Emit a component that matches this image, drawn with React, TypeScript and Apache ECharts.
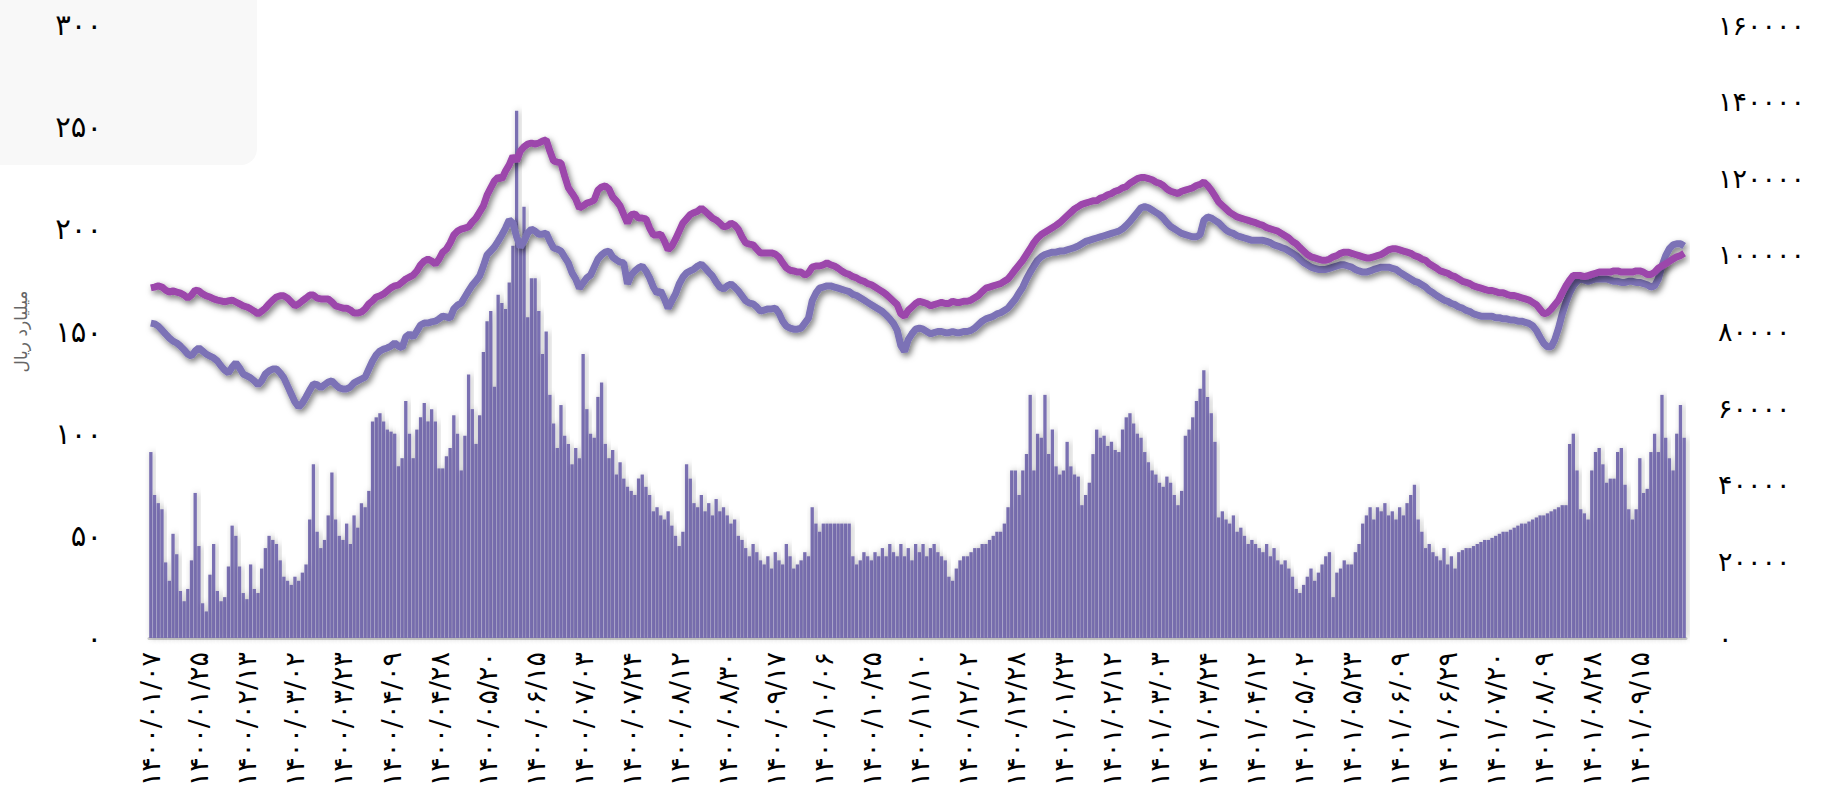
import React, { useEffect, useRef } from 'react';
import * as echarts from 'echarts';

const tickDates = [
  '۱۴۰۰/۰۱/۰۷', '۱۴۰۰/۰۱/۲۵', '۱۴۰۰/۰۲/۱۳', '۱۴۰۰/۰۳/۰۲', '۱۴۰۰/۰۳/۲۳', '۱۴۰۰/۰۴/۰۹', '۱۴۰۰/۰۴/۲۸', '۱۴۰۰/۰۵/۲۰',
  '۱۴۰۰/۰۶/۱۵', '۱۴۰۰/۰۷/۰۳', '۱۴۰۰/۰۷/۲۴', '۱۴۰۰/۰۸/۱۲', '۱۴۰۰/۰۸/۳۰', '۱۴۰۰/۰۹/۱۷', '۱۴۰۰/۱۰/۰۶', '۱۴۰۰/۱۰/۲۵',
  '۱۴۰۰/۱۱/۱۰', '۱۴۰۰/۱۲/۰۲', '۱۴۰۰/۱۲/۲۸', '۱۴۰۱/۰۱/۲۳', '۱۴۰۱/۰۲/۱۲', '۱۴۰۱/۰۳/۰۳', '۱۴۰۱/۰۳/۲۴', '۱۴۰۱/۰۴/۱۲',
  '۱۴۰۱/۰۵/۰۲', '۱۴۰۱/۰۵/۲۳', '۱۴۰۱/۰۶/۰۹', '۱۴۰۱/۰۶/۲۹', '۱۴۰۱/۰۷/۲۰', '۱۴۰۱/۰۸/۰۹', '۱۴۰۱/۰۸/۲۸', '۱۴۰۱/۰۹/۱۵'
];
const LABEL_STEP = 13;

const leftTicks = ['۰', '۵۰', '۱۰۰', '۱۵۰', '۲۰۰', '۲۵۰', '۳۰۰'];
const rightTicks = ['۰', '۲۰۰۰۰', '۴۰۰۰۰', '۶۰۰۰۰', '۸۰۰۰۰', '۱۰۰۰۰۰', '۱۲۰۰۰۰', '۱۴۰۰۰۰', '۱۶۰۰۰۰'];

// trading value (billion rials), left axis
const barValues = [
  91, 70, 66, 63, 37, 28, 51, 41, 23, 18, 24, 38, 71,
  45, 17, 13, 31, 46, 23, 18, 20, 35, 55, 50, 35, 22,
  19, 36, 24, 22, 34, 44, 50, 48, 46, 38, 30, 28, 26,
  30, 28, 32, 36, 58, 85, 52, 44, 48, 60, 81, 58, 50,
  48, 56, 46, 60, 54, 66, 64, 72, 106, 108, 110, 106, 102,
  101, 100, 84, 88, 116, 100, 88, 102, 108, 115, 106, 112, 106,
  83, 83, 89, 93, 109, 100, 82, 99, 129, 112, 95, 109, 140,
  155, 160, 123, 168, 164, 161, 174, 192, 258, 191, 211, 157, 176,
  176, 160, 139, 150, 119, 105, 93, 114, 99, 95, 85, 93, 88,
  139, 112, 100, 98, 118, 125, 95, 88, 92, 80, 86, 78, 74,
  72, 70, 78, 80, 74, 70, 62, 64, 60, 58, 62, 55, 50,
  45, 52, 85, 78, 66, 64, 70, 62, 66, 60, 68, 62, 64,
  60, 56, 58, 50, 48, 44, 40, 46, 42, 38, 36, 40, 34,
  42, 38, 36, 46, 40, 34, 36, 38, 42, 40, 64, 56, 52,
  56, 56, 56, 56, 56, 56, 56, 56, 40, 36, 38, 42, 40,
  38, 42, 40, 44, 40, 46, 42, 40, 46, 40, 44, 38, 46,
  42, 46, 40, 44, 46, 42, 40, 38, 30, 28, 34, 38, 40,
  40, 42, 44, 44, 46, 46, 48, 50, 52, 52, 56, 64, 82,
  82, 70, 82, 90, 119, 82, 100, 98, 119, 90, 102, 84, 80,
  82, 96, 84, 80, 79, 65, 70, 76, 90, 102, 98, 99, 94,
  96, 92, 91, 102, 108, 110, 105, 100, 98, 91, 86, 82, 80,
  76, 74, 79, 76, 70, 65, 72, 99, 102, 108, 116, 122, 131,
  118, 110, 96, 59, 62, 58, 56, 60, 52, 54, 50, 46, 48,
  46, 44, 42, 46, 40, 44, 38, 36, 38, 34, 30, 24, 22,
  26, 30, 34, 28, 32, 36, 40, 42, 20, 32, 34, 38, 36,
  36, 42, 46, 56, 60, 64, 58, 64, 62, 66, 60, 62, 58,
  64, 60, 66, 70, 75, 58, 52, 44, 46, 42, 40, 38, 44,
  36, 40, 34, 42, 43, 44, 44, 45, 46, 47, 48, 48, 49,
  50, 51, 52, 52, 53, 54, 55, 56, 56, 57, 58, 59, 60,
  60, 61, 62, 63, 64, 65, 65, 95, 100, 82, 63, 61, 58,
  82, 91, 93, 85, 76, 78, 78, 91, 93, 75, 63, 58, 63,
  88, 71, 73, 91, 100, 91, 119, 98, 88, 82, 100, 114, 98
];

// upper (magenta) line, right axis
const upperLine = [
  91400, 91600, 91900, 91600, 90800, 90300, 90600, 90300, 90000, 89500, 88700, 89500, 90800,
  90600, 89800, 89300, 89000, 88500, 88200, 88000, 87700, 88000, 88200, 87700, 87200, 86700,
  86400, 85900, 85300, 84600, 85300, 86100, 87200, 88200, 89000, 89300, 89300, 88700, 87700,
  86700, 87200, 88000, 88700, 89500, 89500, 88700, 88500, 88500, 88500, 87700, 86700, 86400,
  86100, 86100, 85600, 84800, 84800, 85100, 85900, 87200, 88000, 89000, 89300, 89800, 90600,
  91400, 91900, 92100, 92900, 93700, 94200, 94700, 95800, 97400, 98400, 98900, 98400, 97600,
  98900, 100700, 101500, 103100, 105200, 106200, 106700, 107000, 107300, 108600, 109600, 111200, 112800,
  115600, 117500, 119300, 120300, 119800, 121900, 123500, 125800, 124500, 127100, 128200, 128900, 129200,
  128900, 129200, 129700, 130000, 127100, 124500, 124200, 124000, 120600, 117500, 116100, 114600, 112200,
  112800, 113500, 113800, 114300, 116900, 117700, 118000, 117200, 115100, 114100, 112800, 110500, 108300,
  110500, 110700, 109600, 109600, 109400, 107000, 105200, 105200, 105400, 103600, 101300, 102300, 104100,
  106200, 108300, 109400, 110500, 111000, 111400, 112200, 111400, 110500, 109600, 109100, 108300, 107300,
  107500, 108300, 107800, 106700, 104700, 103100, 102800, 102600, 101500, 100500, 100500, 100500, 100500,
  100200, 99400, 97900, 96600, 96000, 95800, 95500, 95500, 94700, 95300, 96800, 97100, 97100,
  97400, 97900, 97400, 97100, 96500, 95800, 95200, 94900, 94300, 94000, 93400, 93100, 92500,
  92200, 91600, 91000, 90400, 89700, 88800, 87900, 87000, 84600, 84000, 85500, 86400, 87300,
  87900, 87600, 87300, 86700, 87000, 87300, 87600, 87300, 87300, 87900, 87600, 87600, 87900,
  87900, 88200, 88800, 89400, 90400, 91300, 91600, 91900, 92200, 92500, 93100, 93700, 94900,
  96200, 97400, 98600, 100100, 101600, 103200, 104400, 105300, 105900, 106500, 107100, 107700, 108400,
  109300, 110200, 111100, 112000, 112600, 113200, 113500, 113800, 114100, 114100, 114800, 115100, 115700,
  116000, 116600, 116900, 117500, 117800, 118700, 119300, 119900, 120200, 120200, 119900, 119600, 119000,
  118700, 118100, 117200, 116600, 116300, 116000, 116600, 116900, 117200, 117500, 118100, 118400, 119000,
  118100, 116900, 115400, 113800, 112900, 112000, 111100, 110500, 109900, 109600, 109300, 109000, 108700,
  108400, 108000, 107700, 107100, 106800, 106500, 106200, 105600, 105000, 104400, 103500, 102900, 101900,
  101000, 100100, 99500, 99200, 98900, 98600, 98600, 98900, 99500, 99800, 100400, 100700, 100700,
  100400, 100100, 99800, 99500, 99200, 99200, 99500, 99800, 100100, 100700, 101300, 101600, 101600,
  101300, 101000, 100700, 100400, 99800, 99500, 98900, 98600, 97700, 97100, 96500, 95800, 95500,
  95200, 94600, 94300, 93700, 93100, 92800, 92500, 91900, 91600, 91300, 91000, 90700, 90700,
  90400, 90100, 90100, 89700, 89400, 89400, 89100, 88800, 88500, 88200, 87600, 87000, 85800,
  84600, 84900, 85800, 87000, 88200, 90100, 91900, 93400, 94600, 94600, 94600, 94300, 94600,
  94900, 95200, 95500, 95500, 95500, 95500, 95800, 95800, 95500, 95500, 95500, 95500, 95800,
  95800, 95500, 94900, 94900, 95500, 96500, 97100, 97700, 98300, 98900, 99500, 99800, 100400
];

// lower (slate purple) line, right axis
const lowerLine = [
  82200, 82000, 81400, 80400, 79300, 78300, 77500, 77000, 76200, 75200, 74100, 73600, 74900,
  75700, 74900, 74100, 73600, 73100, 72300, 71000, 69900, 69200, 70700, 71800, 70500, 68900,
  68400, 67900, 67100, 66100, 67100, 68900, 69700, 70200, 70200, 69200, 67900, 65800, 63700,
  61600, 60300, 61300, 62900, 64700, 66300, 66100, 65300, 66100, 66800, 67100, 66100, 65300,
  65000, 65000, 65500, 66600, 67100, 67600, 68100, 70200, 72300, 73900, 74900, 75400, 75700,
  76200, 77000, 76200, 75700, 78600, 79300, 78600, 80100, 81700, 82200, 82200, 82500, 82700,
  83300, 84000, 83800, 83500, 85900, 86900, 87400, 89000, 90600, 92100, 93200, 94500, 97100,
  100000, 101000, 102100, 103600, 105200, 107000, 109100, 108300, 104700, 102100, 103600, 105700, 106700,
  106200, 105400, 105400, 105700, 103600, 101800, 101500, 101000, 99400, 97900, 95300, 93700, 91300,
  92700, 94000, 94700, 96800, 98900, 100000, 100700, 101000, 99400, 98700, 98100, 97900, 92400,
  94700, 95800, 96600, 97100, 95800, 94000, 91600, 90000, 90600, 88500, 86100, 88000, 89800,
  92400, 94200, 95300, 95800, 96300, 97100, 97600, 96600, 95500, 94500, 92900, 91600, 91100,
  91900, 92400, 91600, 90600, 89300, 88000, 87400, 87200, 86400, 85300, 85600, 85900, 85900,
  86100, 84800, 82700, 81400, 80900, 80600, 80600, 80900, 82200, 83500, 88000, 90000, 91300,
  91600, 91900, 91900, 91600, 91300, 91000, 90700, 90400, 89700, 89400, 88800, 88200, 87600,
  87000, 86400, 85800, 85200, 84300, 83300, 82100, 80300, 76300, 74800, 77900, 79400, 80600,
  80900, 80600, 80000, 79400, 79700, 80000, 80000, 79700, 79700, 80000, 79700, 79700, 80000,
  80000, 80300, 80900, 81800, 82700, 83300, 83600, 84000, 84600, 84900, 85500, 86100, 87300,
  88500, 90100, 91600, 93700, 95500, 97100, 98600, 99500, 100100, 100400, 100700, 100700, 101000,
  101000, 101300, 101600, 101900, 102300, 102900, 103500, 103800, 104100, 104400, 104700, 105000, 105300,
  105600, 105900, 106200, 106800, 107700, 108700, 109900, 111100, 112300, 112600, 112300, 111700, 111100,
  110500, 109600, 108400, 107400, 106800, 106200, 105600, 105300, 105000, 104700, 104700, 105300, 109000,
  109900, 109600, 109000, 108400, 107400, 106500, 105900, 105600, 105000, 104700, 104400, 104100, 103800,
  103800, 103800, 103800, 103500, 103200, 102600, 102300, 101900, 101600, 101000, 100400, 99800, 98900,
  98000, 97400, 96800, 96500, 96200, 96200, 96200, 96500, 96800, 97100, 97400, 97400, 97100,
  96800, 96200, 95800, 95500, 95500, 95800, 96200, 96500, 96800, 96800, 96800, 96500, 96200,
  95500, 94900, 94300, 93700, 93100, 92800, 92200, 91600, 90700, 90100, 89400, 88800, 88200,
  87900, 87300, 87000, 86400, 86100, 85500, 85200, 84600, 84300, 84000, 84000, 84000, 84000,
  83600, 83600, 83300, 83300, 83000, 83000, 82700, 82700, 82400, 82100, 81500, 80300, 78500,
  76900, 76000, 76000, 77900, 80900, 84600, 87600, 90100, 91900, 93100, 93700, 93400, 93100,
  93400, 93700, 93700, 93700, 93700, 93400, 93100, 93100, 92800, 92800, 93100, 93100, 92800,
  92800, 92500, 92200, 91600, 91900, 93700, 97100, 99800, 101600, 102600, 102900, 102900, 102300
];

const categories = barValues.map((_, i) => (i % LABEL_STEP === 0 ? tickDates[i / LABEL_STEP] : ''));

const FONT = '"DejaVu Sans", "Noto Sans", sans-serif';

export default function App() {
  const ref = useRef<HTMLDivElement>(null);
  useEffect(() => {
    if (!ref.current) return;
    const chart = echarts.init(ref.current, undefined, { renderer: 'svg' });
    chart.setOption({
      animation: false,
      backgroundColor: '#ffffff',
      textStyle: { fontFamily: FONT },
      graphic: [
        {
          type: 'rect', silent: true, z: -10,
          shape: { x: -20, y: -20, width: 277, height: 185, r: 16 },
          style: { fill: '#f8f8f8' }
        }
      ],
      grid: { left: 149, right: 146, top: 25, bottom: 170 },
      xAxis: {
        type: 'category',
        data: categories,
        boundaryGap: true,
        axisLine: { show: true, lineStyle: { color: '#cfcfcf', width: 3 } },
        axisTick: { show: false },
        axisLabel: {
          interval: LABEL_STEP - 1,
          rotate: 90,
          margin: 14,
          fontSize: 27,
          color: '#000',
          fontFamily: FONT
        },
        splitLine: { show: false }
      },
      yAxis: [
        {
          type: 'value',
          min: 0, max: 300, interval: 50,
          name: 'میلیارد ریال',
          nameLocation: 'middle',
          nameRotate: 90,
          nameGap: 120,
          nameTextStyle: { fontSize: 17, color: '#666', fontFamily: FONT, padding: [0, 0, 0, 0] },
          axisLine: { show: false },
          axisTick: { show: false },
          splitLine: { show: false },
          axisLabel: {
            margin: 47,
            fontSize: 29,
            color: '#000',
            fontFamily: FONT,
            formatter: (v: number) => leftTicks[Math.round(v / 50)] ?? ''
          }
        },
        {
          type: 'value',
          min: 0, max: 160000, interval: 20000,
          position: 'right',
          axisLine: { show: false },
          axisTick: { show: false },
          splitLine: { show: false },
          axisLabel: {
            margin: 32,
            fontSize: 27,
            color: '#000',
            fontFamily: FONT,
            formatter: (v: number) => rightTicks[Math.round(v / 20000)] ?? ''
          }
        }
      ],
      series: [
        {
          type: 'bar',
          yAxisIndex: 0,
          data: barValues,
          barCategoryGap: '10%',
          itemStyle: {
            color: '#7a70b2',
            shadowColor: 'rgba(0,0,0,0.3)',
            shadowBlur: 6,
            shadowOffsetX: 2
          }
        },
        {
          type: 'line',
          yAxisIndex: 1,
          data: lowerLine,
          symbol: 'none',
          lineStyle: {
            color: '#7b72b6',
            width: 7,
            shadowColor: 'rgba(0,0,0,0.55)',
            shadowBlur: 6,
            shadowOffsetX: 2,
            shadowOffsetY: 3
          }
        },
        {
          type: 'line',
          yAxisIndex: 1,
          data: upperLine,
          symbol: 'none',
          lineStyle: {
            color: '#9c47ab',
            width: 7,
            shadowColor: 'rgba(0,0,0,0.55)',
            shadowBlur: 6,
            shadowOffsetX: 2,
            shadowOffsetY: 3
          }
        }
      ]
    });
    return () => chart.dispose();
  }, []);
  return (
    <div
      ref={ref}
      style={{ position: 'fixed', left: 0, top: 0, width: 1832, height: 808, background: '#fff' }}
    />
  );
}
